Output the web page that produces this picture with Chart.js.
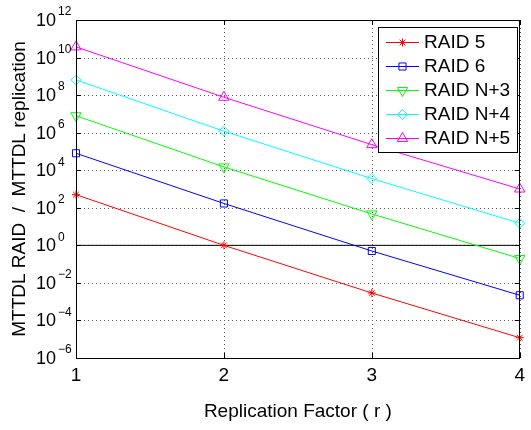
<!DOCTYPE html>
<html>
<head>
<meta charset="utf-8">
<script src="https://cdn.jsdelivr.net/npm/chart.js@4.4.1/dist/chart.umd.min.js"></script>
<style>
  html, body { margin: 0; padding: 0; background: #fff; }
  #wrap { width: 531px; height: 430px; }
</style>
</head>
<body>
<div id="wrap"><canvas id="grafico" width="531" height="430"></canvas></div>
<script>
// dados
const replicationFactor = [1, 2, 3, 4];
const raid5  = [5.0e2, 1.0, 2.9e-3, 1.2e-5];
const raid6  = [8.0e4, 1.7e2, 0.5, 2.2e-3];
const raidN3 = [8.0e6, 1.5e4, 47, 0.2];
const raidN4 = [6.5e8, 1.2e6, 3.6e3, 15];
const raidN5 = [3.7e10, 7.7e7, 2.3e5, 1.0e3];
const unityLine = [1, 1, 1, 1];
const yTickExponents = [-6, -4, -2, 0, 2, 4, 6, 8, 10, 12];
const xTicks = [1, 2, 3, 4];
const seriesNames = ['RAID 5', 'RAID 6', 'RAID N+3', 'RAID N+4', 'RAID N+5'];

const FONT = '"Liberation Sans", Arial, Helvetica, sans-serif';

const pts = arr => arr.map((v, i) => ({ x: replicationFactor[i], y: v }));

const serie = (label, data, color, style, radius, rotation) => ({
  label: label,
  data: pts(data),
  borderColor: color,
  borderWidth: 1,
  pointStyle: style,
  pointRadius: radius,
  pointRotation: rotation || 0,
  pointBorderColor: color,
  pointBackgroundColor: 'rgba(0,0,0,0)',
  pointBorderWidth: 1,
  fill: false,
  tension: 0,
  clip: false
});

const datasets = [
  serie(seriesNames[0], raid5, '#ff0000', 'star', 4),
  serie(seriesNames[1], raid6, '#0000ff', 'rect', 5),
  serie(seriesNames[2], raidN3, '#00ff00', 'triangle', 6, 180),
  serie(seriesNames[3], raidN4, '#00ffff', 'rectRot', 5),
  serie(seriesNames[4], raidN5, '#ff00ff', 'triangle', 6),
  {
    label: 'unity',
    data: pts(unityLine),
    borderColor: '#000',
    borderWidth: 1,
    pointRadius: 0,
    fill: false
  }
];

// grade pontilhada, eixos, rótulos e legenda no estilo MATLAB
const estiloMatlab = {
  id: 'estiloMatlab',
  beforeDatasetsDraw(chart) {
    const { ctx, chartArea: a, scales: { x, y } } = chart;
    ctx.save();
    ctx.strokeStyle = '#555';
    ctx.lineWidth = 1;
    ctx.setLineDash([1, 3]);
    ctx.beginPath();
    xTicks.forEach(v => {
      const px = Math.round(x.getPixelForValue(v)) + 0.5;
      ctx.moveTo(px, a.top); ctx.lineTo(px, a.bottom);
    });
    yTickExponents.forEach(e => {
      const py = Math.round(y.getPixelForValue(Math.pow(10, e))) + 0.5;
      ctx.moveTo(a.left, py); ctx.lineTo(a.right, py);
    });
    ctx.stroke();
    ctx.restore();
  },
  afterDraw(chart) {
    const { ctx, chartArea: a, scales: { x, y } } = chart;
    ctx.save();

    // moldura
    ctx.strokeStyle = '#000';
    ctx.lineWidth = 1;
    ctx.strokeRect(Math.round(a.left) + 0.5, Math.round(a.top) + 0.5,
      Math.round(a.right - a.left) - 1, Math.round(a.bottom - a.top));

    // marcas internas
    ctx.beginPath();
    xTicks.forEach(v => {
      const px = Math.round(x.getPixelForValue(v)) + 0.5;
      ctx.moveTo(px, a.bottom); ctx.lineTo(px, a.bottom - 5);
      ctx.moveTo(px, a.top); ctx.lineTo(px, a.top + 5);
    });
    yTickExponents.forEach(e => {
      const py = Math.round(y.getPixelForValue(Math.pow(10, e))) + 0.5;
      ctx.moveTo(a.left, py); ctx.lineTo(a.left + 5, py);
      ctx.moveTo(a.right, py); ctx.lineTo(a.right - 5, py);
    });
    ctx.stroke();

    // rótulos do eixo y: 10 com expoente
    ctx.fillStyle = '#000';
    ctx.textBaseline = 'middle';
    yTickExponents.forEach(e => {
      const py = y.getPixelForValue(Math.pow(10, e));
      ctx.font = '18px ' + FONT;
      ctx.textAlign = 'right';
      ctx.fillText('10', 56, py + 1);
      ctx.font = '12px ' + FONT;
      ctx.textAlign = 'left';
      ctx.fillText(e < 0 ? '\u2212' + (-e) : String(e), 58, py - 8);
    });

    // títulos
    ctx.font = '19px ' + FONT;
    ctx.textAlign = 'center';
    ctx.fillText('Replication Factor ( r )', (a.left + a.right) / 2, 412);
    ctx.save();
    ctx.translate(20, (a.top + a.bottom) / 2);
    ctx.rotate(-Math.PI / 2);
    ctx.fillText('MTTDL RAID  /  MTTDL replication', 0, 0);
    ctx.restore();

    // legenda dentro da área
    const lx = 378, ly = 27, lw = 139, lh = 125;
    ctx.fillStyle = '#fff';
    ctx.fillRect(lx, ly, lw, lh);
    ctx.strokeStyle = '#000';
    ctx.strokeRect(lx + 0.5, ly + 0.5, lw, lh);
    ctx.font = '19px ' + FONT;
    ctx.textAlign = 'left';
    datasets.slice(0, 5).forEach((ds, i) => {
      const cy = 42 + i * 24;
      ctx.strokeStyle = ds.borderColor;
      ctx.lineWidth = 1;
      ctx.beginPath();
      ctx.moveTo(386, cy + 0.5); ctx.lineTo(419, cy + 0.5);
      ctx.stroke();
      ctx.fillStyle = 'rgba(0,0,0,0)';
      Chart.helpers.drawPoint(ctx, {
        pointStyle: ds.pointStyle,
        rotation: ds.pointRotation,
        radius: ds.pointRadius,
        borderWidth: 1
      }, 402.5, cy + 0.5);
      ctx.fillStyle = '#000';
      ctx.fillText(ds.label, 424, cy + 1);
    });

    ctx.restore();
  }
};

new Chart(document.getElementById('grafico'), {
  type: 'line',
  data: { datasets: datasets },
  options: {
    responsive: false,
    animation: false,
    layout: { padding: { left: 0, right: 4, top: 20, bottom: 0 } },
    plugins: { legend: { display: false }, tooltip: { enabled: false } },
    scales: {
      x: {
        type: 'linear',
        min: 1,
        max: 4,
        afterBuildTicks: s => { s.ticks = xTicks.map(v => ({ value: v })); },
        afterFit: s => { s.height = 72; },
        ticks: {
          color: '#000',
          font: { family: FONT, size: 19 },
          padding: 6,
          maxRotation: 0,
          callback: v => String(v)
        },
        grid: { display: false, drawTicks: false },
        border: { display: false }
      },
      y: {
        type: 'logarithmic',
        min: 1e-6,
        max: 1e12,
        afterBuildTicks: s => { s.ticks = yTickExponents.map(e => ({ value: Math.pow(10, e) })); },
        afterFit: s => { s.width = 76; },
        ticks: { display: false },
        grid: { display: false, drawTicks: false },
        border: { display: false }
      }
    }
  },
  plugins: [estiloMatlab]
});
</script>
</body>
</html>
